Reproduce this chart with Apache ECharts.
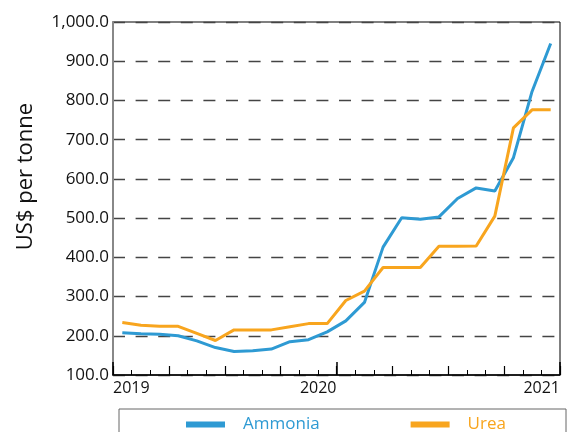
<!DOCTYPE html>
<html>
<head>
<meta charset="utf-8">
<script src="https://cdn.jsdelivr.net/npm/echarts@6/dist/echarts.min.js"></script>
<style>
  html, body { margin: 0; padding: 0; background: #fff; }
  #chart { width: 571px; height: 432px; }
</style>
</head>
<body>
<div id="chart"></div>
<script>
// monthly prices, Jan 2019 .. Dec 2020
const months = [
  '2019-01', '2019-02', '2019-03', '2019-04', '2019-05', '2019-06',
  '2019-07', '2019-08', '2019-09', '2019-10', '2019-11', '2019-12',
  '2020-01', '2020-02', '2020-03', '2020-04', '2020-05', '2020-06',
  '2020-07', '2020-08', '2020-09', '2020-10', '2020-11', '2020-12'
]
const ammonia = [208, 205, 204, 200, 187, 170, 160, 162, 166, 185, 190, 210,
  238, 285, 426, 501, 497, 503, 550, 577, 569, 654, 823, 945]
const urea = [234, 227, 224, 224, 206, 188, 215, 215, 215, 223, 231, 231,
  290, 314, 374, 374, 374, 428, 428, 429, 505, 730, 776, 776]
const yearLabels = ['2019', '2020', '2021']

const blue = '#2e9ad3'
const orange = '#f8a51e'
const font = 'Open Sans'

// x axis counts months from Jan 2019, each point sits mid-month
const toPoints = vals => vals.map((v, i) => [i + 0.5, v])

const chart = echarts.init(document.getElementById('chart'))
chart.setOption({
  animation: false,
  textStyle: { fontFamily: font },
  grid: { left: 113, right: 11, top: 22, bottom: 57, show: true, borderColor: '#000', borderWidth: 1 },
  legend: {
    left: 186,
    top: 416,
    padding: 0,
    itemGap: 91,
    itemWidth: 39,
    itemHeight: 6,
    icon: 'rect',
    textStyle: { fontSize: 17, fontFamily: font, padding: [0, 0, 0, 13] },
    data: [
      { name: 'Ammonia', textStyle: { color: blue } },
      { name: 'Urea', textStyle: { color: orange } }
    ]
  },
  graphic: [{
    type: 'rect',
    shape: { x: 119, y: 409, width: 447, height: 40 },
    style: { fill: 'none', stroke: '#666', lineWidth: 1 },
    silent: true
  }],
  xAxis: [{
    type: 'value',
    min: 0,
    max: months.length,
    interval: 3,
    axisLine: { lineStyle: { color: '#000', width: 1.5 } },
    axisTick: { inside: true, length: 9, lineStyle: { color: '#000', width: 1.2 } },
    minorTick: { show: true, splitNumber: 3, length: 5, lineStyle: { color: '#000', width: 1 } },
    splitLine: { show: false },
    axisLabel: {
      color: '#111',
      fontSize: 16,
      margin: 5,
      align: 'right',
      alignMinLabel: 'left',
      showMinLabel: true,
      showMaxLabel: true,
      formatter: v => (v % 12 === 0 ? yearLabels[v / 12] : '')
    }
  }, {
    type: 'value',
    position: 'bottom',
    min: 0,
    max: months.length,
    interval: 12,
    axisLine: { show: false },
    axisTick: { inside: true, length: 13, lineStyle: { color: '#000', width: 1.5 } },
    axisLabel: { show: false },
    splitLine: { show: false }
  }],
  yAxis: [{
    type: 'value',
    min: 100,
    max: 1000,
    interval: 100,
    name: 'US$ per tonne',
    nameLocation: 'middle',
    nameGap: 76,
    nameTextStyle: { fontSize: 22, color: '#111', fontFamily: font, padding: [0, 0, 0, 44] },
    axisLine: { show: true, lineStyle: { color: '#555', width: 1.5 } },
    axisTick: { show: false },
    axisLabel: {
      color: '#111',
      fontSize: 17,
      margin: 4,
      formatter: v => v.toLocaleString('en-US', { minimumFractionDigits: 1, maximumFractionDigits: 1 })
    },
    splitLine: { lineStyle: { color: '#444', width: 1.3, type: [12, 10.6] } }
  }, {
    type: 'value',
    position: 'right',
    min: 100,
    max: 1000,
    interval: 100,
    axisLine: { show: true, lineStyle: { color: '#888', width: 2 } },
    axisTick: { show: false },
    axisLabel: { show: false },
    splitLine: { show: false }
  }],
  series: [{
    name: 'Ammonia',
    type: 'line',
    data: toPoints(ammonia),
    symbol: 'none',
    color: blue,
    lineStyle: { width: 3 }
  }, {
    name: 'Urea',
    type: 'line',
    data: toPoints(urea),
    symbol: 'none',
    color: orange,
    lineStyle: { width: 3 }
  }]
})
</script>
</body>
</html>
